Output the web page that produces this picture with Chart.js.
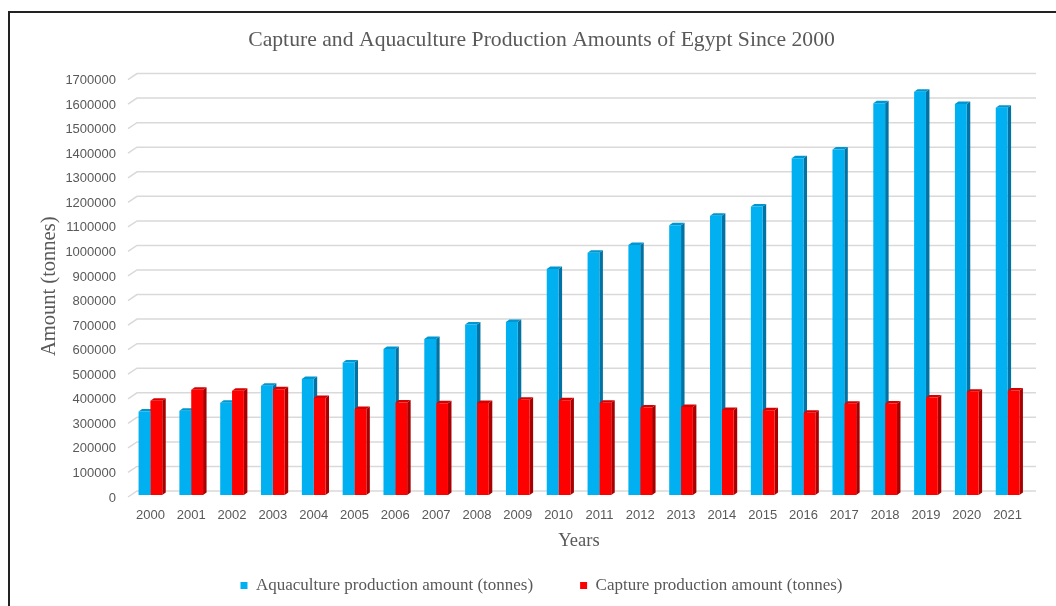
<!DOCTYPE html>
<html>
<head>
<meta charset="utf-8">
<script src="https://cdn.jsdelivr.net/npm/chart.js@4"></script>
<style>
  html, body { margin: 0; padding: 0; background: #fff; overflow: hidden; }
  #frame { position: absolute; left: 8px; top: 11px; width: 1100px; height: 700px; border: 2px solid #222; }
  #wrap { position: absolute; left: 0; top: 0; width: 1056px; height: 606px; }
</style>
</head>
<body>
<div id="frame"></div>
<div id="wrap"><canvas id="chart" width="1056" height="606"></canvas></div>
<script>
const years = ['2000', '2001', '2002', '2003', '2004', '2005', '2006', '2007', '2008', '2009', '2010',
               '2011', '2012', '2013', '2014', '2015', '2016', '2017', '2018', '2019', '2020', '2021'];
const aquaculture = [340000, 343000, 376000, 445000, 472000, 540000, 595000, 635000, 694000, 705000, 920000,
                     987000, 1018000, 1098000, 1137000, 1175000, 1371000, 1407000, 1595000, 1642000, 1592000, 1577000];
const capture = [384000, 429000, 425000, 431000, 395000, 350000, 377000, 374000, 375000, 388000, 386000,
                 376000, 356000, 358000, 346000, 345000, 335000, 372000, 373000, 397000, 420000, 426000];
const yMax = 1700000;
const yStep = 100000;

const grey = '#595959';
const serif = 'Liberation Serif';
const sans = 'Liberation Sans';

// fake 3d: back-wall gridlines + side/top faces of the bars, drawn before the fronts
const depth = {
  id: 'depth',
  beforeDatasetsDraw(chart) {
    const { ctx, chartArea, scales } = chart;
    const y = scales.y;
    ctx.save();
    ctx.strokeStyle = '#d9d9d9';
    ctx.lineWidth = 1.5;
    y.ticks.forEach(t => {
      const py = y.getPixelForValue(t.value);
      ctx.beginPath();
      ctx.moveTo(chartArea.left - 2, py + 2);
      ctx.lineTo(chartArea.left + 7, py - 4);
      ctx.lineTo(chartArea.right + 8, py - 4);
      ctx.stroke();
    });
    const D = 3.5, H = 2.5;
    chart.data.datasets.forEach((ds, i) => {
      chart.getDatasetMeta(i).data.forEach(bar => {
        const p = bar.getProps(['x', 'y', 'base', 'width'], true);
        const l = p.x - p.width / 2, r = p.x + p.width / 2;
        ctx.fillStyle = ds.sideColor;
        ctx.beginPath();
        ctx.moveTo(r, p.y);
        ctx.lineTo(r + D, p.y - H);
        ctx.lineTo(r + D, p.base - H);
        ctx.lineTo(r, p.base);
        ctx.closePath();
        ctx.fill();
        ctx.fillStyle = ds.topColor;
        ctx.beginPath();
        ctx.moveTo(l, p.y);
        ctx.lineTo(l + D, p.y - H);
        ctx.lineTo(r + D, p.y - H);
        ctx.lineTo(r, p.y);
        ctx.closePath();
        ctx.fill();
      });
    });
    ctx.restore();
  }
};

new Chart(document.getElementById('chart'), {
  type: 'bar',
  data: {
    labels: years,
    datasets: [
      {
        label: 'Aquaculture production amount (tonnes)',
        data: aquaculture,
        backgroundColor: '#00b0f0',
        sideColor: '#0072a3',
        topColor: '#0096cf'
      },
      {
        label: 'Capture production amount (tonnes)',
        data: capture,
        backgroundColor: '#ff0000',
        sideColor: '#a80000',
        topColor: '#d60000'
      }
    ]
  },
  options: {
    responsive: false,
    animation: false,
    categoryPercentage: 0.58,
    barPercentage: 1.0,
    layout: { padding: { left: 55, right: 28, top: 0, bottom: 2 } },
    plugins: {
      title: {
        display: true,
        text: 'Capture and Aquaculture Production Amounts of Egypt Since 2000',
        color: grey,
        font: { family: serif, size: 21.7, weight: 'normal' },
        padding: { top: 27, bottom: 24.5 }
      },
      legend: {
        position: 'bottom',
        labels: {
          color: grey,
          font: { family: serif, size: 17 },
          boxWidth: 7,
          boxHeight: 7,
          padding: 47
        }
      },
      tooltip: { enabled: false }
    },
    scales: {
      x: {
        grid: { display: false, drawTicks: false },
        border: { display: false },
        ticks: { color: grey, font: { family: sans, size: 13 }, padding: 13, maxRotation: 0 },
        title: {
          display: true,
          text: 'Years',
          color: grey,
          font: { family: serif, size: 18.5 },
          padding: { top: 0, bottom: -22.1 }
        },
        afterFit(scale) { scale.height = 35; }
      },
      y: {
        min: 0,
        max: yMax,
        grid: { display: false, drawTicks: false },
        border: { display: false },
        ticks: {
          stepSize: yStep,
          color: grey,
          font: { family: sans, size: 13 },
          padding: 14,
          labelOffset: 3,
          callback: v => String(v)
        },
        title: {
          display: true,
          text: 'Amount (tonnes)',
          color: grey,
          font: { family: serif, size: 20.5 },
          padding: { top: -17.3, bottom: 0 }
        },
        afterFit(scale) { scale.width = 75; }
      }
    }
  },
  plugins: [depth]
});
</script>
</body>
</html>
